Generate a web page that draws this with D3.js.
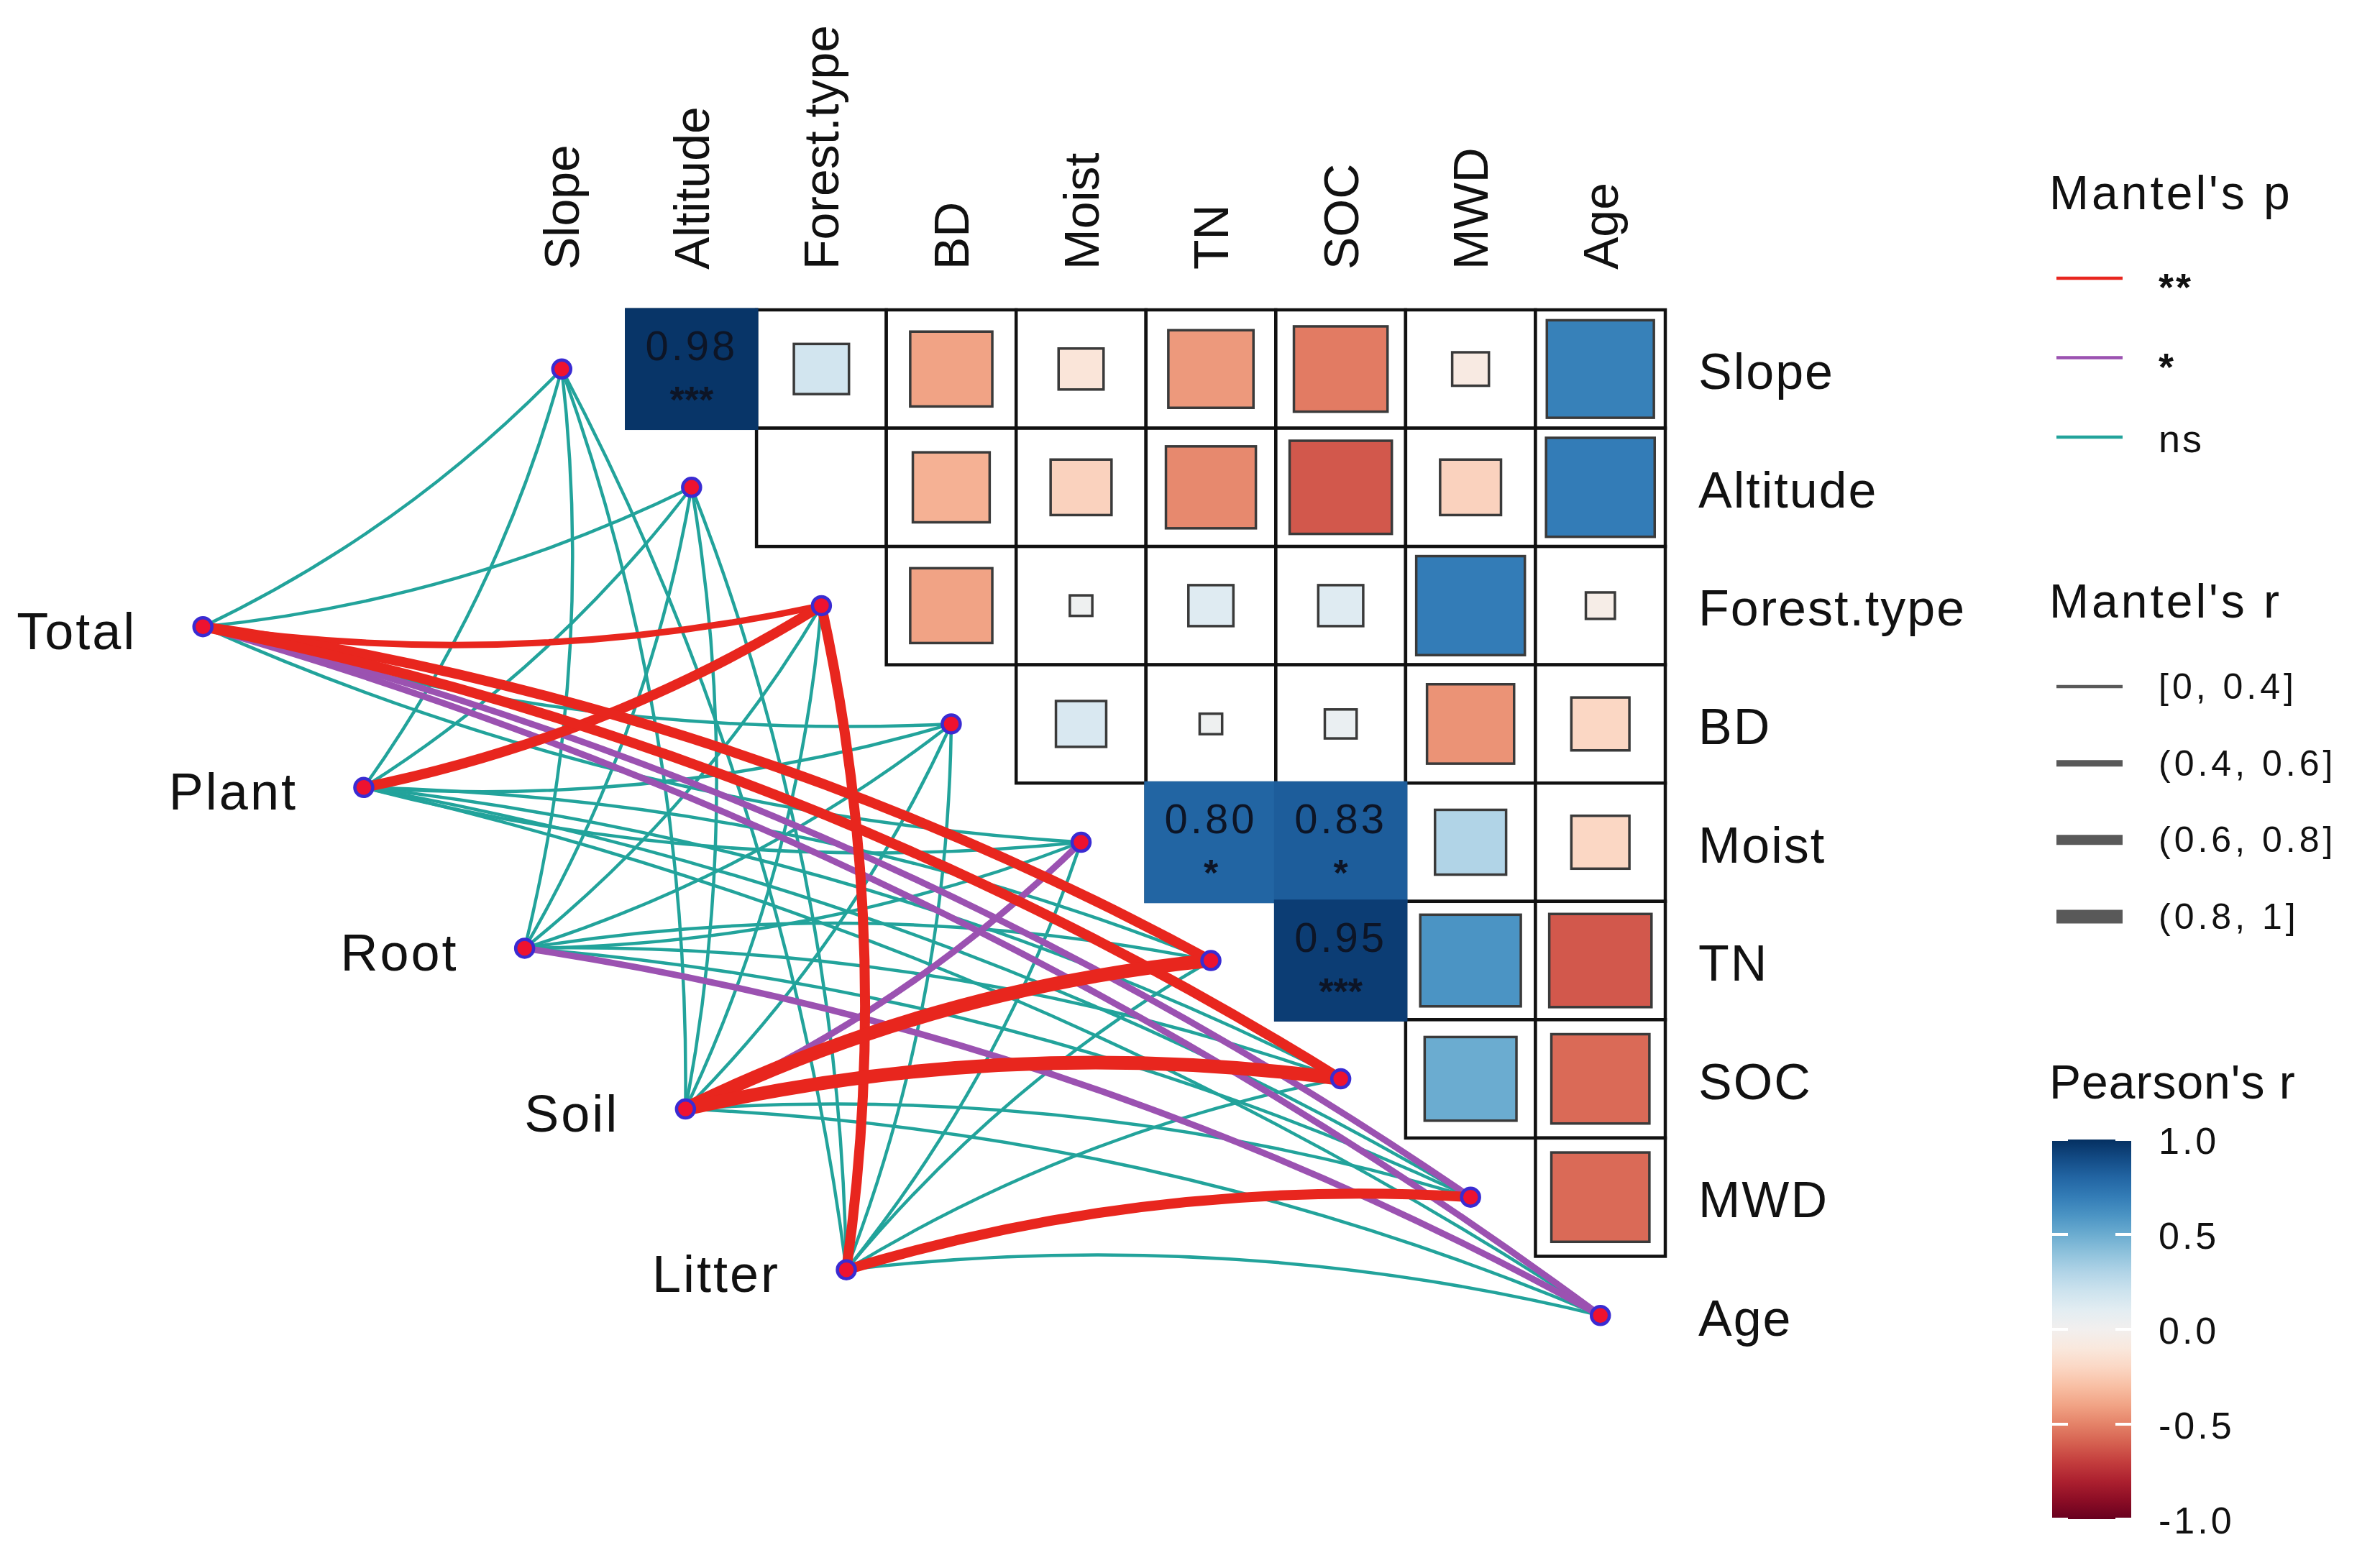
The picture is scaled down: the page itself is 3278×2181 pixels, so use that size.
<!DOCTYPE html>
<html><head><meta charset="utf-8">
<script src="https://cdn.jsdelivr.net/npm/d3@7"></script>
<style>body{margin:0;background:#fff}svg{display:block}</style>
</head><body>
<svg id="chart" width="3278" height="2181"></svg>
<script>
// ---------------- DATA ----------------
const envVars = ["Slope","Altitude","Forest.type","BD","Moist","TN","SOC","MWD","Age"];
// Pearson r, upper triangle: row variable vs the variables after it
const corrSlope      = [0.98, 0.18, -0.40, -0.12, -0.43, -0.52, -0.08, 0.68];
const corrAltitude   = [0.00, -0.35, -0.22, -0.48, -0.62, -0.22, 0.70];
const corrForestType = [-0.40, 0.03, 0.12, 0.12, 0.70, -0.05];
const corrBD         = [0.15, 0.03, 0.06, -0.45, -0.20];
const corrMoist      = [0.80, 0.83, 0.30, -0.20];
const corrTN         = [0.95, 0.60, -0.62];
const corrSOC        = [0.50, -0.57];
const corrMWD        = [-0.57];
// significance marks of Pearson r (same shape)
const sigSlope      = ["***","","","","","","",""];
const sigAltitude   = ["","","","","","",""];
const sigForestType = ["","","","","",""];
const sigBD         = ["","","","",""];
const sigMoist      = ["*","*","",""];
const sigTN         = ["***","",""];
const sigSOC        = ["",""];
const sigMWD        = [""];

const groupNames = ["Total","Plant","Root","Soil","Litter"];
// Mantel r and p, one array per group, in envVars order
const mantelR_Total  = [0.15, 0.12, 0.52, 0.10, 0.18, 0.68, 0.70, 0.47, 0.45];
const mantelR_Plant  = [0.13, 0.10, 0.66, 0.16, 0.21, 0.24, 0.20, 0.12, 0.19];
const mantelR_Root   = [0.09, 0.17, 0.22, 0.14, 0.19, 0.25, 0.27, 0.31, 0.46];
const mantelR_Soil   = [0.11, 0.14, 0.26, 0.15, 0.44, 0.84, 0.87, 0.29, 0.21];
const mantelR_Litter = [0.10, 0.08, 0.71, 0.18, 0.23, 0.20, 0.26, 0.66, 0.17];
const mantelP_Total  = [0.36, 0.41, 0.004, 0.52, 0.21, 0.002, 0.001, 0.021, 0.033];
const mantelP_Plant  = [0.44, 0.58, 0.003, 0.27, 0.15, 0.12, 0.18, 0.49, 0.23];
const mantelP_Root   = [0.62, 0.24, 0.11, 0.39, 0.17, 0.09, 0.08, 0.07, 0.027];
const mantelP_Soil   = [0.51, 0.33, 0.06, 0.30, 0.038, 0.001, 0.001, 0.08, 0.14];
const mantelP_Litter = [0.55, 0.71, 0.002, 0.22, 0.10, 0.19, 0.07, 0.004, 0.26];

const pLevels = ["**","*","ns"];
const rBinLabels = ["[0, 0.4]","(0.4, 0.6]","(0.6, 0.8]","(0.8, 1]"];
const colorTicks = [1.0, 0.5, 0.0, -0.5, -1.0];

// ---------------- SETUP ----------------
const corrRows = [corrSlope, corrAltitude, corrForestType, corrBD, corrMoist, corrTN, corrSOC, corrMWD];
const sigRows  = [sigSlope, sigAltitude, sigForestType, sigBD, sigMoist, sigTN, sigSOC, sigMWD];
const mantelR = [mantelR_Total, mantelR_Plant, mantelR_Root, mantelR_Soil, mantelR_Litter];
const mantelP = [mantelP_Total, mantelP_Plant, mantelP_Root, mantelP_Soil, mantelP_Litter];

const FONT = "'Liberation Sans', Arial, Helvetica, sans-serif";
const svg = d3.select("#chart");
svg.append("rect").attr("width",3278).attr("height",2181).attr("fill","#fff");

const x = d3.scaleBand().domain(envVars).range([691, 2316]).padding(0);
const y = d3.scaleBand().domain(envVars).range([431, 1912]).padding(0);
const bw = x.bandwidth(), bh = y.bandwidth();
const cx = v => x(v) + bw/2, cy = v => y(v) + bh/2;
const idxX = d3.scaleLinear().domain([0, envVars.length-1]).range([cx(envVars[0]), cx(envVars[envVars.length-1])]);
const idxY = d3.scaleLinear().domain([0, envVars.length-1]).range([cy(envVars[0]), cy(envVars[envVars.length-1])]);
const colorScale = d3.scaleSequential(d3.interpolateRdBu).domain([-1, 1]);
const sizeScale = d3.scaleSqrt().domain([0, 1]).range([0, 1]);
const pColor = d3.scaleOrdinal().domain(pLevels).range(["#E8261E", "#9B52B1", "#22A39B"]);
const rWidth = d3.scaleThreshold().domain([0.4, 0.6, 0.8]).range([4.5, 9, 14, 19]);
const pCat = p => p <= 0.01 ? "**" : (p <= 0.05 ? "*" : "ns");
const fmtNum = f => v => d3.format(f)(v).replace("\u2212", "-");

// group-node layout (in variable-index units)
const groupLayout = groupNames.map((g, k) => ({ name: g, gx: -2.764 + 1.239*k, gy: 2.178 + 1.359*k }));

// ---------------- CORRELATION MATRIX ----------------
const cells = [];
corrRows.forEach((row, i) => row.forEach((v, jj) => {
  const j = i + 1 + jj;
  cells.push({ row: envVars[i], col: envVars[j], r: v, sig: sigRows[i][jj] });
}));

const gGrid = svg.append("g");
gGrid.selectAll("rect.cell").data(cells).join("rect")
  .attr("x", d => x(d.col)).attr("y", d => y(d.row))
  .attr("width", bw).attr("height", bh)
  .attr("fill", "#fff").attr("stroke", "#111").attr("stroke-width", 4.5);

// squares for non-marked cells
gGrid.selectAll("rect.sq").data(cells.filter(d => !d.sig && Math.abs(d.r) >= 0.01)).join("rect")
  .attr("x", d => cx(d.col) - bw*sizeScale(Math.abs(d.r))/2)
  .attr("y", d => cy(d.row) - bh*sizeScale(Math.abs(d.r))/2)
  .attr("width", d => bw*sizeScale(Math.abs(d.r)))
  .attr("height", d => bh*sizeScale(Math.abs(d.r)))
  .attr("fill", d => colorScale(d.r)).attr("stroke", "#3a3a3a").attr("stroke-width", 3.5);

// full tiles for significant cells
const marked = cells.filter(d => d.sig);
gGrid.selectAll("rect.tile").data(marked).join("rect")
  .attr("x", d => x(d.col) - 2.5).attr("y", d => y(d.row) - 2.5)
  .attr("width", bw + 5).attr("height", bh + 5)
  .attr("fill", d => colorScale(d.r));
gGrid.selectAll("text.val").data(marked).join("text")
  .attr("x", d => cx(d.col)).attr("y", d => y(d.row) + bh*0.30)
  .attr("text-anchor","middle").attr("dominant-baseline","central")
  .attr("font-family", FONT).attr("font-size", 58).attr("letter-spacing", 4)
  .attr("fill", "#0d1526").text(d => fmtNum(".2f")(d.r));
gGrid.selectAll("text.sig").data(marked).join("text")
  .attr("x", d => cx(d.col)).attr("y", d => y(d.row) + bh*0.76)
  .attr("text-anchor","middle").attr("dominant-baseline","central")
  .attr("font-family", FONT).attr("font-size", 52).attr("font-weight","bold")
  .attr("fill", "#0d1526").text(d => d.sig);

// axis labels: top (rotated) and right
svg.append("g").selectAll("text").data(envVars).join("text")
  .attr("transform", d => `translate(${cx(d)},375) rotate(-90)`)
  .attr("text-anchor","start").attr("dominant-baseline","central")
  .attr("font-family", FONT).attr("font-size", 68).attr("fill", "#111").text(d => d);
svg.append("g").selectAll("text").data(envVars).join("text")
  .attr("x", 2362).attr("y", d => cy(d) + 4)
  .attr("text-anchor","start").attr("dominant-baseline","central")
  .attr("font-family", FONT).attr("font-size", 70).attr("letter-spacing", 2)
  .attr("fill", "#111").text(d => d);

// ---------------- MANTEL LINKS ----------------
const links = [];
groupLayout.forEach((g, k) => envVars.forEach((e, j) => {
  links.push({ g, env: e, j, r: mantelR[k][j], p: mantelP[k][j] });
}));
const order = { "ns": 0, "*": 1, "**": 2 };
links.sort((a, b) => (order[pCat(a.p)] - order[pCat(b.p)]) || (a.r - b.r));

// curvature: links to the first half of the variables bend to the right of travel,
// the remaining ones to the left (as in linkET's nice_curvature)
const midIdx = (envVars.length - 1) / 2;
function curvePath(x0, y0, x1, y1, j) {
  const dx = x1 - x0, dy = y1 - y0;
  const k = 0.09 * (j <= midIdx ? -1 : 1);
  const qx = (x0 + x1)/2 + k*dy, qy = (y0 + y1)/2 - k*dx;
  const p = d3.path(); p.moveTo(x0, y0); p.quadraticCurveTo(qx, qy, x1, y1);
  return p.toString();
}
svg.append("g").selectAll("path").data(links).join("path")
  .attr("d", d => curvePath(idxX(d.g.gx), idxY(d.g.gy), cx(d.env), cy(d.env), d.j))
  .attr("fill", "none").attr("stroke", d => pColor(pCat(d.p)))
  .attr("stroke-width", d => rWidth(d.r)).attr("stroke-linecap", "butt");

// nodes
const nodes = svg.append("g");
nodes.selectAll("circle.env").data(envVars).join("circle")
  .attr("cx", d => cx(d)).attr("cy", d => cy(d)).attr("r", 12.5)
  .attr("fill", "#EE1230").attr("stroke", "#3A2BD2").attr("stroke-width", 4.5);
nodes.selectAll("circle.grp").data(groupLayout).join("circle")
  .attr("cx", d => idxX(d.gx)).attr("cy", d => idxY(d.gy)).attr("r", 12.5)
  .attr("fill", "#EE1230").attr("stroke", "#3A2BD2").attr("stroke-width", 4.5);
nodes.selectAll("text").data(groupLayout).join("text")
  .attr("x", d => idxX(d.gx) - 92).attr("y", d => idxY(d.gy) + 6)
  .attr("text-anchor","end").attr("dominant-baseline","central")
  .attr("font-family", FONT).attr("font-size", 72).attr("letter-spacing", 3)
  .attr("fill", "#111").text(d => d.name);

// ---------------- LEGENDS ----------------
const lg = svg.append("g").attr("font-family", FONT).attr("fill", "#111");
const LX = 2850, KX1 = 2860, KX2 = 2952, TX = 3002;
lg.append("text").attr("x", LX).attr("y", 268).attr("dominant-baseline","central")
  .attr("font-size", 66).attr("letter-spacing", 4).text("Mantel's p");
const pKeyY = d3.scalePoint().domain(pLevels).range([387, 608]);
lg.selectAll("line.pk").data(pLevels).join("line")
  .attr("x1", KX1).attr("x2", KX2).attr("y1", d => pKeyY(d)).attr("y2", d => pKeyY(d))
  .attr("stroke", d => pColor(d)).attr("stroke-width", 4.5);
lg.selectAll("text.pk").data(pLevels).join("text")
  .attr("x", TX).attr("y", d => pKeyY(d) + (d === "ns" ? 2 : 12))
  .attr("dominant-baseline","central").attr("font-size", 54).attr("letter-spacing", 3)
  .attr("font-weight", d => d === "ns" ? "normal" : "bold").text(d => d);

lg.append("text").attr("x", LX).attr("y", 836).attr("dominant-baseline","central")
  .attr("font-size", 66).attr("letter-spacing", 4).text("Mantel's r");
const rKeyY = d3.scalePoint().domain(rBinLabels).range([955, 1275]);
const rKeyW = d3.scaleOrdinal().domain(rBinLabels).range(rWidth.range());
lg.selectAll("line.rk").data(rBinLabels).join("line")
  .attr("x1", KX1).attr("x2", KX2).attr("y1", d => rKeyY(d)).attr("y2", d => rKeyY(d))
  .attr("stroke", "#595959").attr("stroke-width", d => rKeyW(d));
lg.selectAll("text.rk").data(rBinLabels).join("text")
  .attr("x", TX).attr("y", d => rKeyY(d)).attr("dominant-baseline","central")
  .attr("font-size", 50).attr("letter-spacing", 5).text(d => d);

lg.append("text").attr("x", LX).attr("y", 1505).attr("dominant-baseline","central")
  .attr("font-size", 66).attr("letter-spacing", 1).text("Pearson's r");
const barY = d3.scaleLinear().domain([-1, 1]).range([2113, 1585]);
const defs = svg.append("defs");
const grad = defs.append("linearGradient").attr("id","rdbu").attr("x1",0).attr("y1",1).attr("x2",0).attr("y2",0);
d3.range(0, 1.0001, 0.05).forEach(t => grad.append("stop")
  .attr("offset", t).attr("stop-color", colorScale(-1 + 2*t)));
const BX = 2854, BW = 110;
lg.append("rect").attr("x", BX).attr("y", barY(1)).attr("width", BW).attr("height", barY(-1) - barY(1))
  .attr("fill", "url(#rdbu)");
lg.selectAll("line.tk1").data(colorTicks).join("line")
  .attr("x1", BX).attr("x2", BX + 22).attr("y1", d => barY(d)).attr("y2", d => barY(d))
  .attr("stroke", "#fff").attr("stroke-width", 4);
lg.selectAll("line.tk2").data(colorTicks).join("line")
  .attr("x1", BX + BW - 22).attr("x2", BX + BW).attr("y1", d => barY(d)).attr("y2", d => barY(d))
  .attr("stroke", "#fff").attr("stroke-width", 4);
lg.selectAll("text.tk").data(colorTicks).join("text")
  .attr("x", TX).attr("y", d => barY(d) + 2).attr("dominant-baseline","central")
  .attr("font-size", 52).attr("letter-spacing", 4).text(d => fmtNum(".1f")(d));
</script>
</body></html>
